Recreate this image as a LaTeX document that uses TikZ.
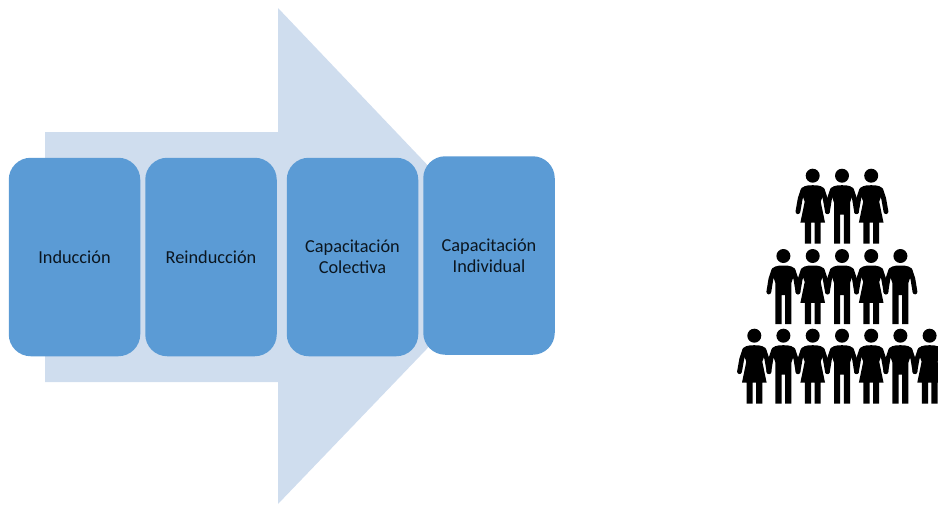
\documentclass[tikz,border=0pt]{standalone}
\usepackage{fontspec}
\setmainfont{Carlito}
\definecolor{boxblue}{HTML}{5B9BD5}
\definecolor{arrowblue}{HTML}{CFDDEE}
\definecolor{inktext}{HTML}{0B1620}
\tikzset{
  stagebox/.style={fill=boxblue,draw=none,rounded corners=22pt,inner sep=0pt,
    minimum width=131.5pt,minimum height=198.5pt,align=center,text=inktext,
    font=\fontsize{18.3pt}{21pt}\selectfont},
  limb/.style={draw=black,line width=4.8pt,line cap=round,line join=round},
  person/.style={fill=black,draw=none}
}
% #1 x, #2 y of head centre
\newcommand{\manfig}[2]{%
  \begin{scope}[shift={(#1,#2)}]
    \fill[person] (0,0) circle (7);
    \fill[person] (0,9.5) .. controls (-7,9.5) and (-11,10.5) .. (-12,15) -- (-8,27) -- (-8,68) -- (-1.8,68) -- (-1.8,39) -- (1.8,39) -- (1.8,68) -- (8,68) -- (8,27) -- (12,15) .. controls (11,10.5) and (7,9.5) .. (0,9.5) -- cycle;
    \draw[limb] (-9.5,14) -- (-12.5,23) -- (-14.6,36);
    \draw[limb] (9.5,14) -- (12.5,23) -- (14.6,36);
  \end{scope}}
\newcommand{\womanfig}[2]{%
  \begin{scope}[shift={(#1,#2)}]
    \fill[person] (0,0) circle (7);
    \fill[person] (0,9.5) .. controls (-7,9.5) and (-11,10.5) .. (-12,15) -- (-8,26) -- (-12.3,46.8) -- (-7.8,46.8) -- (-7.8,68) -- (-1.6,68) -- (-1.6,46.8) -- (1.8,46.8) -- (1.8,68) -- (8,68) -- (8,46.8) -- (12.3,46.8) -- (8,26) -- (12,15) .. controls (11,10.5) and (7,9.5) .. (0,9.5) -- cycle;
    \draw[limb] (-9.5,14) -- (-12.5,23) -- (-14.8,36);
    \draw[limb] (9.5,14) -- (12.5,23) -- (14.8,36);
  \end{scope}}
\begin{document}
\begin{tikzpicture}[x=1pt,y=-1pt]
  \useasboundingbox (0,0) rectangle (938,504);
  \clip (0,0) rectangle (938,504);
  \fill[arrowblue] (45,132) -- (278,132) -- (278,8) -- (515,257) -- (278,504) -- (278,382) -- (45,382) -- cycle;
  \node[stagebox] (induccion) at (74.5,257) {Inducción};
  \node[stagebox] (reinduccion) at (211,257) {Reinducción};
  \node[stagebox] (colectiva) at (352.5,257) {Capacitación\\Colectiva};
  \node[stagebox] (individual) at (489,255.5) {Capacitación\\Individual};
  % top row
  \womanfig{812.7}{175.7}
  \manfig{842}{175.7}
  \womanfig{871.2}{175.7}
  % middle row
  \manfig{783.4}{256}
  \womanfig{812.7}{256}
  \manfig{842}{256}
  \womanfig{871.2}{256}
  \manfig{900.4}{256}
  % bottom row
  \womanfig{754.3}{335.7}
  \manfig{783.4}{335.7}
  \womanfig{812.7}{335.7}
  \manfig{842}{335.7}
  \womanfig{871.2}{335.7}
  \manfig{900.4}{335.7}
  \womanfig{929.6}{335.7}
\end{tikzpicture}
\end{document}
